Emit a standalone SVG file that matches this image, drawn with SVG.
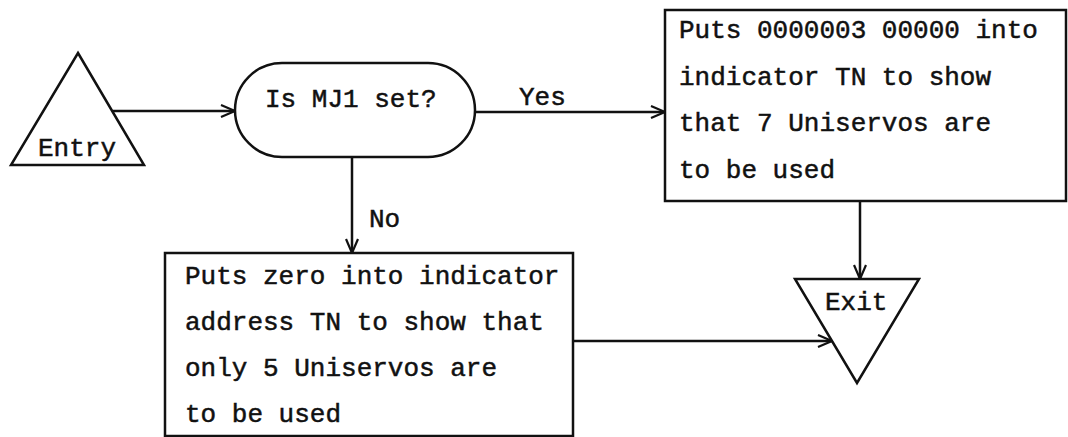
<svg xmlns="http://www.w3.org/2000/svg" width="1068" height="437" viewBox="0 0 1068 437">
<defs>
<style>
.s{fill:none;stroke:#111;stroke-width:2.5;stroke-linejoin:miter}
.n{fill:#fff;stroke:#111;stroke-width:2.5}
text{font-family:"Liberation Mono","Courier New",monospace;font-size:26px;fill:#111;stroke:#111;stroke-width:0.5}
</style>
<marker id="a" markerWidth="16" markerHeight="14" viewBox="0 0 16 14" refX="15" refY="7" orient="auto" markerUnits="userSpaceOnUse">
<path d="M1,1 L15,7 L1,13" fill="none" stroke="#111" stroke-width="2.2"/>
</marker>
</defs>
<rect width="1068" height="437" fill="#fff"/>
<g id="connectors">
<line class="s" x1="113" y1="111" x2="235" y2="111" marker-end="url(#a)"/>
<line class="s" x1="475" y1="112" x2="665" y2="112" marker-end="url(#a)"/>
<line class="s" x1="352" y1="157" x2="352" y2="253" marker-end="url(#a)"/>
<line class="s" x1="860" y1="201" x2="860" y2="279" marker-end="url(#a)"/>
<line class="s" x1="573" y1="341" x2="832" y2="341" marker-end="url(#a)"/>
<text x="519" y="105">Yes</text>
<text x="369" y="227">No</text>
</g>
<g id="entry">
<polygon class="n" points="78,53 144,165 11,165"/>
<text x="38" y="156">Entry</text>
</g>
<g id="decision">
<rect class="n" x="235" y="63" width="240" height="94" rx="47" ry="47"/>
<text x="265" y="107">Is MJ1 set?</text>
</g>
<g id="box-yes">
<rect class="n" x="665" y="10" width="401" height="191"/>
<text x="679" y="38">Puts 0000003 00000 into</text>
<text x="679" y="85">indicator TN to show</text>
<text x="679" y="131">that 7 Uniservos are</text>
<text x="679" y="178">to be used</text>
</g>
<g id="box-no">
<rect class="n" x="165" y="253" width="408" height="183"/>
<text x="185" y="284">Puts zero into indicator</text>
<text x="185" y="330">address TN to show that</text>
<text x="185" y="376">only 5 Uniservos are</text>
<text x="185" y="422">to be used</text>
</g>
<g id="exit">
<polygon class="n" points="795,279 919,279 857,383"/>
<text x="825" y="310">Exit</text>
</g>
</svg>
